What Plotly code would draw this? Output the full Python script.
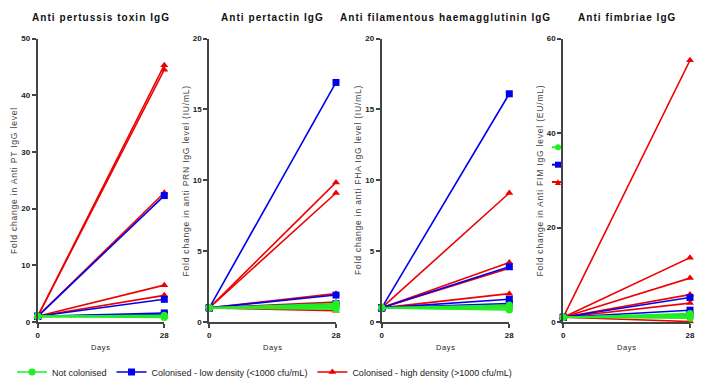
import plotly.graph_objects as go

# ---------------- data ----------------
days = [0, 28]
panel_titles = ["Anti pertussis toxin IgG", "Anti pertactin IgG",
                "Anti filamentous haemagglutinin IgG", "Anti fimbriae IgG"]
y_titles = ["Fold change in Anti PT IgG level",
            "Fold change in anti PRN IgG level (IU/mL)",
            "Fold change in anti FHA IgG level (IU/mL)",
            "Fold change in Anti FIM IgG level (EU/mL)"]
y_max = [50, 20, 20, 60]
y_dtick = [10, 5, 5, 20]
group_names = ["Not colonised", "Colonised - low density (<1000 cfu/mL)",
               "Colonised - high density (>1000 cfu/mL)"]

# day-28 fold change per subject (day 0 = 1.0 baseline)
pt_high = [45.3, 44.5, 22.8, 6.5, 4.7]
pt_low = [22.3, 4.0, 1.6, 1.3]
pt_none = [1.1, 1.0, 0.9, 0.8, 1.2]

prn_high = [9.85, 9.1, 2.0, 1.4, 0.8]
prn_low = [16.9, 1.9, 1.3]
prn_none = [1.3, 1.1, 1.0, 0.9, 1.2]

fha_high = [9.1, 4.2, 3.8, 2.0, 1.2]
fha_low = [16.1, 3.9, 1.6, 1.3]
fha_none = [1.1, 1.0, 0.9, 0.85, 1.2]

fim_high = [55.4, 13.6, 9.3, 5.8, 4.0, 0.1]
fim_low = [5.2, 2.5, 1.5]
fim_none = [1.5, 1.2, 1.0, 0.8, 1.8]

panels = [(pt_none, pt_low, pt_high), (prn_none, prn_low, prn_high),
          (fha_none, fha_low, fha_high), (fim_none, fim_low, fim_high)]

# ---------------- style ----------------
W, H = 702, 378
colors = ["#22ee22", "#0000ee", "#ee0000"]
symbols = ["circle", "square", "triangle-up"]
x_px = [(37.7, 164.3), (209.3, 336.0), (381.7, 509.3), (563.3, 690.0)]
y_top_px, y_bot_px = 38.5, 322.0
font_fam = "Liberation Sans, Arial, sans-serif"


def spaced(t, px):
    return '<span style="letter-spacing:%spx">%s</span>' % (px, t)


fig = go.Figure()

draw_order = [2, 1, 0]  # red, blue, green on top
for p, groups in enumerate(panels):
    ax = "" if p == 0 else str(p + 1)
    for g in draw_order:
        vals = groups[g]
        xs, ys = [], []
        for v in vals:
            xs += [days[0], days[1], None]
            ys += [1.0, v, None]
        fig.add_trace(go.Scatter(
            x=xs, y=ys, mode="lines+markers",
            xaxis="x" + ax, yaxis="y" + ax,
            line=dict(color=colors[g], width=1.6),
            marker=dict(color=colors[g], symbol=symbols[g], size=7),
            cliponaxis=False,
            name=group_names[g], legendgroup=group_names[g],
            legendrank=g + 1, showlegend=(p == 0),
        ))

    xd = [x_px[p][0] / W, x_px[p][1] / W]
    yd = [1 - y_bot_px / H, 1 - y_top_px / H]
    axis_common = dict(showgrid=False, zeroline=False, showline=True,
                       linecolor="#444", linewidth=2, ticks="outside",
                       tickcolor="#444", tickwidth=1.5, ticklen=4, automargin=False,
                       tickfont=dict(family=font_fam, size=8, color="#222", weight="bold"))
    fig.layout["xaxis" + ax] = dict(
        domain=xd, range=[0, 28], tickvals=days, anchor="y" + ax, **axis_common)
    fig.layout["yaxis" + ax] = dict(
        domain=yd, range=[0, y_max[p]], dtick=y_dtick[p], anchor="x" + ax,
        **axis_common)

    cx = (xd[0] + xd[1]) / 2
    fig.add_annotation(text="<b>" + spaced(panel_titles[p], 1.05) + "</b>",
                       xref="paper", yref="paper", x=cx, y=1 - 17 / H,
                       xanchor="center", yanchor="middle", showarrow=False,
                       font=dict(family=font_fam, size=10, color="#111"))
    fig.add_annotation(text=spaced("Days", 0.6), xref="paper", yref="paper",
                       x=cx, y=1 - 347 / H, xanchor="center", yanchor="middle",
                       showarrow=False,
                       font=dict(family=font_fam, size=7.5, color="#222"))
    fig.add_annotation(text=spaced(y_titles[p], 0.8), xref="paper", yref="paper",
                       x=(x_px[p][0] - 23) / W, y=(yd[0] + yd[1]) / 2,
                       xanchor="center", yanchor="middle",
                       textangle=-90, showarrow=False,
                       font=dict(family=font_fam, size=8.5, color="#444"))

# stray legend-symbol fragments drawn inside the last panel in the original
frag_y = [147.3, 164.7, 182.0]
for g in range(3):
    yc = 1 - frag_y[g] / H
    x0, x1 = 552 / W, 561 / W
    fig.add_shape(type="line", xref="paper", yref="paper", x0=x0, x1=x1, y0=yc, y1=yc,
                  line=dict(color=colors[g], width=2))
    mx = 558 / W
    dx, dy = 3 / W, 3 / H
    if g == 0:
        fig.add_shape(type="circle", xref="paper", yref="paper", x0=mx - dx, x1=mx + dx,
                      y0=yc - dy, y1=yc + dy, fillcolor=colors[g], line=dict(width=0))
    elif g == 1:
        fig.add_shape(type="rect", xref="paper", yref="paper", x0=mx - dx, x1=mx + dx,
                      y0=yc - dy, y1=yc + dy, fillcolor=colors[g], line=dict(width=0))
    else:
        fig.add_shape(type="path", xref="paper", yref="paper",
                      path="M %f %f L %f %f L %f %f Z" % (mx - dx, yc - dy, mx + dx, yc - dy, mx, yc + dy),
                      fillcolor=colors[g], line=dict(width=0))

fig.update_layout(
    width=W, height=H, margin=dict(l=0, r=0, t=0, b=0, autoexpand=False),
    paper_bgcolor="white", plot_bgcolor="white",
    legend=dict(orientation="h", x=12 / W, xanchor="left", y=1 - 372 / H,
                yanchor="middle", font=dict(family=font_fam, size=9, color="#222"),
                itemwidth=30, tracegroupgap=0),
)

fig.write_html("out.html", config={"displayModeBar": False},
               post_script="document.body.style.margin='0';document.body.style.overflow='hidden';")
